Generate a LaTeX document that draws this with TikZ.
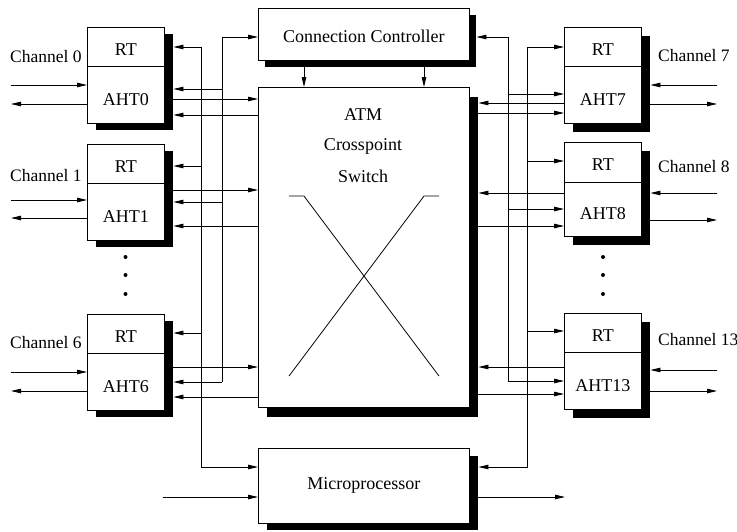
\documentclass[tikz,border=0pt]{standalone}
\usepackage{fontspec}
\setmainfont{Liberation Serif}
\usetikzlibrary{arrows.meta}
\begin{document}
\begin{tikzpicture}[x=1pt,y=-1pt,
  every node/.style={font=\fontsize{18}{20}\selectfont},
  box/.style={draw, fill=white, line width=0.8pt, inner sep=0pt, anchor=north west},
  shade/.style={fill=black, draw=none, inner sep=0pt, anchor=north west},
  lab/.style={inner sep=0pt},
  arr/.style={line width=0.8pt, -{Triangle[length=10pt,width=4.5pt]}},
  ln/.style={line width=0.8pt},
  chan/.style={font=\fontsize{17.5}{20}\selectfont, anchor=west, inner sep=0pt}
]
\useasboundingbox (0,0) rectangle (737,531);

% ---------- central units ----------
\node[shade, minimum width=211pt, minimum height=52pt] (ccs) at (265,15) {};
\node[box, minimum width=211pt, minimum height=52pt] (cc) at (258,8) {};
\node[lab] at (cc.center) [yshift=-1.5pt] {Connection Controller};

\node[shade, minimum width=211pt, minimum height=320pt] (atms) at (267,97) {};
\node[box, minimum width=211pt, minimum height=320pt] (atm) at (258,87) {};
\node[lab] (t1) at (363,115) {ATM};
\node[lab] (t2) at (363,146) {Crosspoint};
\node[lab] (t3) at (363,176) {Switch};
\draw[ln] (289,196) -- (304,196) -- (439,376);
\draw[ln] (439,196) -- (424,196) -- (289,376);

\node[shade, minimum width=211pt, minimum height=74pt] (ms) at (267,456) {};
\node[box, minimum width=211pt, minimum height=75pt] (mp) at (258,448) {};
\node[lab] at (mp.center) {Microprocessor};

% controller -> switch
\coordinate (c1) at (304,0);
\coordinate (c2) at (424,0);
\draw[arr] (c1 |- ccs.south) -- (c1 |- atm.north);
\draw[arr] (c2 |- ccs.south) -- (c2 |- atm.north);

% microprocessor in/out
\coordinate (mpin) at (163,497);
\coordinate (mpout) at (565,497);
\draw[arr] (mpin) -- (mpin -| mp.west);
\draw[arr] (mpout -| ms.east) -- (mpout);

% ---------- left blocks ----------
\foreach \i/\t/\cy/\yi/\yo/\ya/\yb/\ysi/\yso in
  {0/27/57/85/104/47/89/99/115,
   1/144/176/200/218/166/202/190/226,
   6/314/343/372/391/333/382/367/397}{
  \node[shade, minimum width=77pt, minimum height=96pt] (ls\i) at (96,{\t+6.5}) {};
  \node[box, minimum width=77pt, minimum height=39pt] (lrt\i) at (87,\t) {};
  \node[box, minimum width=77pt, minimum height=57pt] (laht\i) at (87,{\t+39}) {};
  \node[lab] at (lrt\i.center) [yshift=-2.5pt] {RT};
  \node[lab] at (laht\i.center) [yshift=-4.5pt] {AHT\i};
  \node[chan] (lch\i) at (10,\cy) {Channel \i};
  \coordinate (lin\i) at (11,\yi);
  \coordinate (lout\i) at (11,\yo);
  \draw[arr] (lin\i) -- (lin\i -| laht\i.west);
  \draw[arr] (lout\i -| laht\i.west) -- (lout\i);
  \coordinate (A\i) at (201,\ya);
  \coordinate (B\i) at (222,\yb);
  \draw[arr] (A\i) -- (A\i -| ls\i.east);
  \draw[arr] (B\i) -- (B\i -| ls\i.east);
  \coordinate (lsi\i) at (0,\ysi);
  \coordinate (lso\i) at (0,\yso);
  \draw[arr] (lsi\i -| ls\i.east) -- (lsi\i -| atm.west);
  \draw[arr] (lso\i -| atm.west) -- (lso\i -| ls\i.east);
}

% left buses
\coordinate (mpA) at (201,467);
\coordinate (ccB) at (222,37);
\draw[arr] (A0) -- (mpA) -- (mpA -| mp.west);
\draw[arr] (B6) -- (ccB) -- (ccB -| cc.west);

% ---------- right blocks ----------
\foreach \i/\t/\hr/\ha/\cy/\yi/\yo/\yc/\yd/\yso/\ysi in
  {7/27/39/57/56/85/104/47/94/103/113,
   8/142/40/54/167/193/220/161/209/193/226,
   13/313/39/57/340/370/391/331/381/367/394}{
  \node[shade, minimum width=77pt, minimum height={\hr+\ha}] (rs\i) at (573,{\t+9}) {};
  \node[box, minimum width=77pt, minimum height=\hr] (rrt\i) at (564,\t) {};
  \node[box, minimum width=77pt, minimum height=\ha] (raht\i) at (564,{\t+\hr}) {};
  \node[lab] at (rrt\i.center) [yshift=-2.5pt] {RT};
  \node[lab] at (raht\i.center) [yshift=-4.5pt] {AHT\i};
  \node[chan] (rch\i) at (658,\cy) {Channel \i};
  \coordinate (rin\i) at (717,\yi);
  \coordinate (rout\i) at (717,\yo);
  \draw[arr] (rin\i) -- (rin\i -| rs\i.east);
  \draw[arr] (rout\i -| rs\i.east) -- (rout\i);
  \coordinate (C\i) at (527,\yc);
  \coordinate (D\i) at (508,\yd);
  \draw[arr] (C\i) -- (C\i -| rrt\i.west);
  \draw[arr] (D\i) -- (D\i -| raht\i.west);
  \coordinate (rso\i) at (0,\yso);
  \coordinate (rsi\i) at (0,\ysi);
  \draw[arr] (rso\i -| raht\i.west) -- (rso\i -| atms.east);
  \draw[arr] (rsi\i -| atms.east) -- (rsi\i -| raht\i.west);
}

% right buses
\coordinate (mpC) at (527,467);
\coordinate (ccD) at (508,37);
\draw[arr] (C7) -- (mpC) -- (mpC -| ms.east);
\draw[arr] (D13) -- (ccD) -- (ccD -| ccs.east);

% dots
\foreach \y in {257,275,294}{
  \fill (125.5,\y) circle (2pt);
  \fill (603,\y) circle (2pt);
}
\end{tikzpicture}
\end{document}
